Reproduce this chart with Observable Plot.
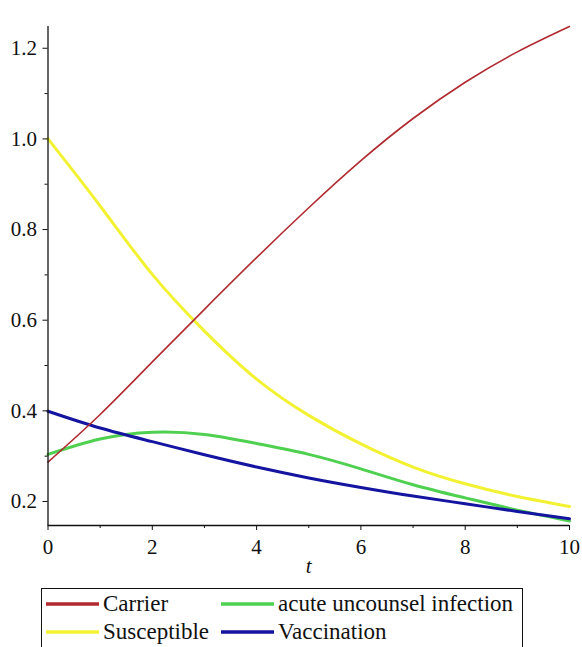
<!DOCTYPE html>
<html>
<head>
<meta charset="utf-8">
<script src="https://cdn.jsdelivr.net/npm/d3@7"></script>
<script src="https://cdn.jsdelivr.net/npm/@observablehq/plot@0.6"></script>
<style>
  html, body { margin: 0; padding: 0; background: #fff; }
  #wrap { position: relative; width: 582px; height: 647px; overflow: hidden; font-family: 'Liberation Serif', 'DejaVu Serif', serif; }
  #wrap svg text { font-family: 'Liberation Serif', 'DejaVu Serif', serif; }
  #legend { position: absolute; left: 41px; top: 588px; width: 482px; height: 80px; border: 1px solid #111; box-sizing: border-box; }
  .item { position: absolute; display: flex; align-items: center; font-size: 23px; color: #111; height: 26px; white-space: nowrap; font-family: 'Liberation Serif', 'DejaVu Serif', serif; }
  .item svg { margin-right: 4px; }
</style>
</head>
<body>
<div id="wrap">
  <div id="chart"></div>
  <div id="legend"></div>
</div>
<script>
// time values
const tValues = [0, 1, 2, 3, 4, 5, 6, 7, 8, 9, 10];
// series values
const carrier     = [0.287, 0.392, 0.508, 0.624, 0.738, 0.848, 0.952, 1.045, 1.125, 1.192, 1.248];
const susceptible = [1.000, 0.852, 0.701, 0.576, 0.470, 0.390, 0.327, 0.276, 0.239, 0.211, 0.189];
const acute       = [0.304, 0.338, 0.353, 0.348, 0.328, 0.304, 0.272, 0.237, 0.208, 0.181, 0.157];
const vaccination = [0.399, 0.362, 0.332, 0.303, 0.276, 0.252, 0.231, 0.212, 0.195, 0.178, 0.162];

const seriesNames = ["Carrier", "acute uncounsel infection", "Susceptible", "Vaccination"];
const seriesColors = ["#b02a30", "#4fd050", "#f2f232", "#1414a0"];
const seriesWidths = [1.6, 3, 3, 3];

// ticks
const xMajor = [0, 2, 4, 6, 8, 10];
const xMinor = [1, 3, 5, 7, 9];
const yMajor = [0.2, 0.4, 0.6, 0.8, 1.0, 1.2];
const yMinor = [0.3, 0.5, 0.7, 0.9, 1.1];
const xDomain = [0, 10];
const yDomain = [0.147, 1.248];
const xLabel = "t";

const valuesByName = {
  "Carrier": carrier,
  "Susceptible": susceptible,
  "acute uncounsel infection": acute,
  "Vaccination": vaccination
};
const drawOrder = ["Susceptible", "acute uncounsel infection", "Vaccination", "Carrier"];

const rows = [];
for (const name of drawOrder) {
  valuesByName[name].forEach((v, i) => rows.push({name, t: tValues[i], v}));
}

const colorOf = Object.fromEntries(seriesNames.map((n, i) => [n, seriesColors[i]]));
const widthOf = Object.fromEntries(seriesNames.map((n, i) => [n, seriesWidths[i]]));

const lineMarks = drawOrder.map(name =>
  Plot.line(rows.filter(r => r.name === name), {
    x: "t", y: "v", stroke: colorOf[name], strokeWidth: widthOf[name], curve: "natural"
  })
);

const fontFamily = "'Liberation Serif', 'DejaVu Serif', serif";

const plot = Plot.plot({
  width: 582,
  height: 585,
  marginLeft: 47.5,
  marginRight: 13,
  marginTop: 26,
  marginBottom: 60,
  style: { fontFamily, background: "#fff", color: "#111" },
  x: { domain: xDomain },
  y: { domain: yDomain },
  marks: [
    ...lineMarks,
    Plot.ruleX([xDomain[0]], { y1: yDomain[0], y2: yDomain[1], stroke: "#111", strokeWidth: 1.3 }),
    Plot.ruleY([yDomain[0]], { x1: xDomain[0], x2: xDomain[1], stroke: "#111", strokeWidth: 1.3 }),
    Plot.axisX({ ticks: xMajor, tickSize: 5, tickPadding: 9, fontSize: 21, fontFamily, label: null, tickFormat: d3.format("d"), stroke: "#111" }),
    Plot.axisX({ ticks: xMinor, tickSize: 3, text: null, label: null, stroke: "#111" }),
    Plot.axisY({ ticks: yMajor, tickSize: 5, tickPadding: 6, fontSize: 21, fontFamily, label: null, tickFormat: d3.format(".1f"), stroke: "#111" }),
    Plot.axisY({ ticks: yMinor, tickSize: 3, text: null, label: null, stroke: "#111" }),
    Plot.text([xLabel], { x: d3.mean(xDomain), frameAnchor: "bottom", dy: 47, text: d => d, fontSize: 21, fontFamily, fontStyle: "italic", fill: "#111" })
  ]
});
document.getElementById("chart").appendChild(plot);

// legend
const legend = document.getElementById("legend");
const positions = [
  { left: 4, top: 2 },     // Carrier
  { left: 179, top: 2 },   // acute
  { left: 4, top: 30 },    // Susceptible
  { left: 179, top: 30 }   // Vaccination
];
seriesNames.forEach((name, i) => {
  const div = document.createElement("div");
  div.className = "item";
  div.style.left = positions[i].left + "px";
  div.style.top = positions[i].top + "px";
  div.innerHTML = `<svg width="53" height="10"><line x1="0" x2="53" y1="5" y2="5" stroke="${seriesColors[i]}" stroke-width="3.5"/></svg><span>${name}</span>`;
  legend.appendChild(div);
});
</script>
</body>
</html>
